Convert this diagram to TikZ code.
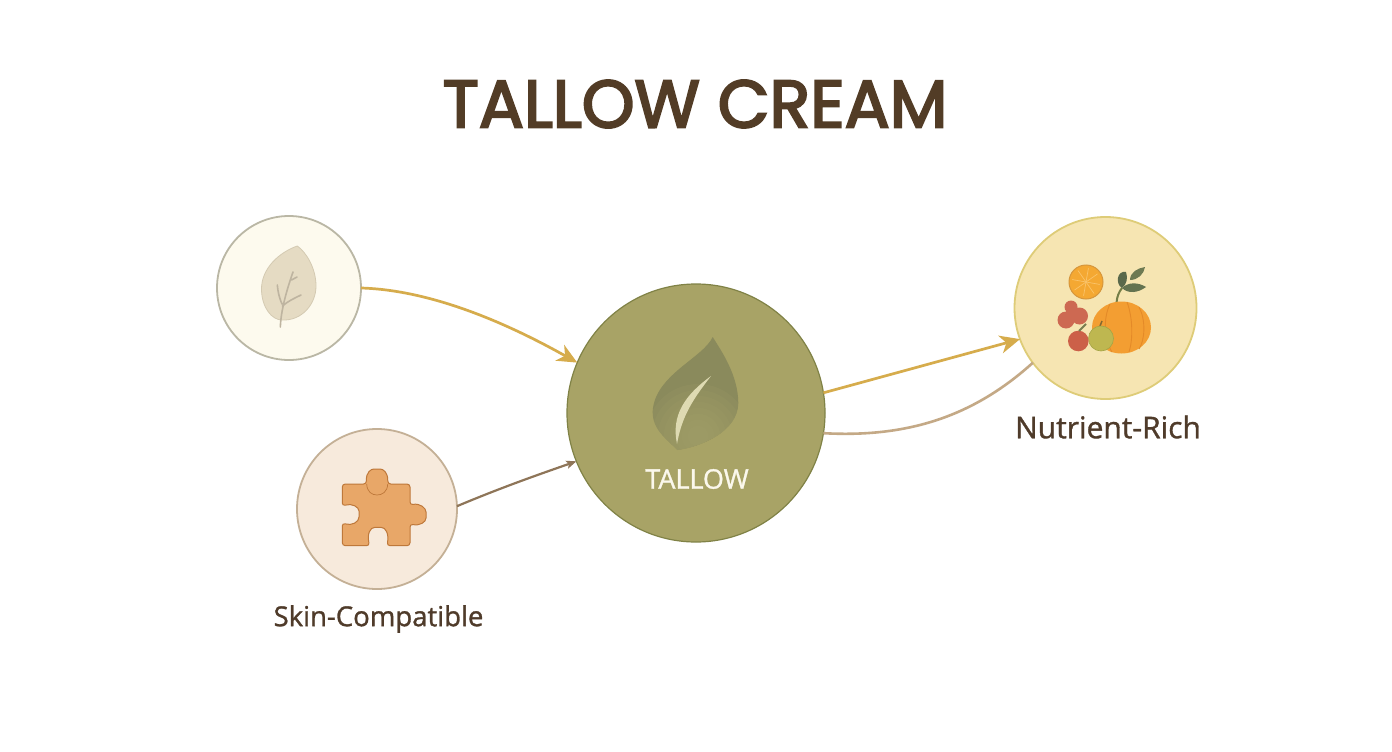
\documentclass[tikz,border=0pt]{standalone}
\usepackage{fontspec}
\setmainfont{Poppins}
\newfontfamily\titlefont[FakeBold=3.2]{Poppins}
\newfontfamily\lblfont[FakeBold=1.1]{Open Sans}
\usetikzlibrary{arrows.meta}
\definecolor{titlec}{HTML}{523C26}
\definecolor{labelc}{HTML}{4F3B2A}
\definecolor{gold}{HTML}{D6AC4C}
\definecolor{tan1}{HTML}{C4A986}
\definecolor{brownl}{HTML}{8E7558}
\definecolor{orangep}{RGB}{243,158,50}
\tikzset{
  x=1pt,y=-1pt,
  blob/.style={circle,inner sep=0pt,outer sep=0pt,draw,line width=1.8pt},
  goldarrow/.style={draw=gold,line width=2.7pt,-{Stealth[length=20pt,width=18pt,inset=6pt]}},
  brownarrow/.style={draw=brownl,line width=2.2pt,-{Stealth[length=10pt,width=8pt,inset=2pt]}},
  plainline/.style={draw=tan1,line width=2.6pt},
  lbl/.style={text=labelc,inner sep=0pt},
}
\begin{document}
\begin{tikzpicture}
\useasboundingbox (0,0) rectangle (1392,752);
\fill[white] (0,0) rectangle (1392,752);
% title
\node[text=titlec,inner sep=0pt,font=\titlefont\fontsize{67}{72}\selectfont] (title) at (695,104) {TALLOW CREAM};
% circles
\node[blob,fill={rgb,255:red,253;green,250;blue,238},draw={rgb,255:red,186;green,183;blue,165},minimum size=144pt] (a) at (289,288) {};
\node[blob,fill={rgb,255:red,247;green,234;blue,220},draw={rgb,255:red,196;green,176;blue,150},minimum size=160pt] (b) at (377,509) {};
\node[blob,fill={rgb,255:red,168;green,163;blue,102},draw={rgb,255:red,128;green,130;blue,70},line width=1.2pt,minimum size=258pt] (m) at (696,413) {};
\node[blob,fill={rgb,255:red,246;green,229;blue,178},draw={rgb,255:red,222;green,204;blue,120},minimum size=182pt] (r) at (1105.5,308) {};
% connectors
\draw[goldarrow] (a.0) .. controls (430,290) and (505,322) .. (m.157);
\draw[brownarrow] (b.2) .. controls (500,488) and (540,474) .. (m.202);
\draw[goldarrow] (m.9) -- (r.200);
\draw[plainline] (m.-9) .. controls (910,438) and (975,415) .. (r.217);
% small leaf
\fill[fill={rgb,255:red,229;green,219;blue,195},draw={rgb,255:red,212;green,202;blue,178},line width=.8pt]
 (297.3,246) .. controls (280,252) and (261,268) .. (261.5,290)
 .. controls (262,308) and (272,320) .. (282,320)
 .. controls (302,321) and (316,304) .. (316,286)
 .. controls (316,268) and (306,252) .. (297.3,246) -- cycle;
\draw[draw={rgb,255:red,190;green,180;blue,160},line width=1.6pt,line cap=round]
 (280.3,327) .. controls (281,312) and (285,295) .. (293,272)
 (282.5,306) .. controls (288,301) and (295,298) .. (301,295)
 (282,304) .. controls (279,297) and (278,292) .. (277.3,285)
 (291.5,280) -- (297,277);
% puzzle
\fill[fill={rgb,255:red,232;green,167;blue,104},draw={rgb,255:red,190;green,120;blue,58},line width=1pt,rounded corners=3pt]
 (342.3,484) -- (366.5,484)
 .. controls (366,472) and (371,469) .. (377,469)
 .. controls (383,469) and (388,472) .. (387.7,484)
 -- (410,484) -- (410,505)
 .. controls (420,503) and (426,508) .. (426,515)
 .. controls (426,522) and (420,526) .. (410,524)
 -- (410,545.7) -- (387,545.7)
 .. controls (389,534) and (386,527.3) .. (378,527.3)
 .. controls (370,527.3) and (367,534) .. (369.5,545.7)
 -- (342.3,545.7) -- (342.3,523)
 .. controls (352,526) and (359,522) .. (359,514)
 .. controls (359,507) and (352,503) .. (342.3,506) -- cycle;
\draw[draw={rgb,255:red,190;green,120;blue,58},line width=.7pt] (366.7,484) .. controls (367,492) and (372,495) .. (377,495) .. controls (382,495) and (387.5,492) .. (387.7,484);
% central leaf
\begin{scope}
\clip (712.7,337) .. controls (703,358) and (655,375) .. (652.7,411)
 .. controls (652,430) and (668,440) .. (677.3,450)
 .. controls (700,447) and (738,432) .. (738.3,403)
 .. controls (738,375) and (722,352) .. (712.7,337) -- cycle;
\fill[fill={rgb,255:red,138;green,138;blue,92}] (640,330) rectangle (750,455);
\foreach \rr in {10,16,...,52}
  \fill[fill={rgb,255:red,168;green,165;blue,108},opacity=.14] (698,436) circle (\rr);
\end{scope}
\fill[fill={rgb,255:red,222;green,218;blue,178}]
 (677,444) .. controls (671,415) and (685,395) .. (711,376)
 .. controls (694,398) and (682,415) .. (677,444) -- cycle;
\node[text={rgb,255:red,251;green,248;blue,236},inner sep=0pt,font=\lblfont\fontsize{27}{30}\selectfont] (tallow) at (697,479) {TALLOW};
% orange slice
\fill[fill={rgb,255:red,244;green,168;blue,50},draw={rgb,255:red,214;green,150;blue,60},line width=1pt] (1086,282) circle (17);
\foreach \an in {10,55,...,325}
  \draw[draw={rgb,255:red,250;green,195;blue,105},line width=.7pt] (1086,282) -- ++(\an:14);
% pumpkin
\draw[draw={rgb,255:red,115;green,125;blue,70},line width=2pt] (1116.5,303) .. controls (1117,296) and (1119,292) .. (1122,288);
\fill[fill={rgb,255:red,90;green,105;blue,75}] (1122,288) .. controls (1115,284) and (1117,270) .. (1126,272) .. controls (1128,278) and (1127,284) .. (1122,288) -- cycle;
\fill[fill={rgb,255:red,110;green,122;blue,82}] (1130,280) .. controls (1130,272) and (1138,268) .. (1145,267) .. controls (1144,274) and (1138,280) .. (1130,280) -- cycle;
\fill[fill={rgb,255:red,100;green,115;blue,80}] (1122,288) .. controls (1128,282) and (1138,282) .. (1146,287) .. controls (1138,293) and (1128,294) .. (1122,288) -- cycle;
\fill[fill=orangep] (1121.5,327.5) ellipse [x radius=29.5,y radius=26];
\draw[draw={rgb,255:red,228;green,138;blue,40},line width=.9pt]
 (1110,304) .. controls (1103,318) and (1104,340) .. (1112,352)
 (1127,302) .. controls (1133,318) and (1133,340) .. (1129,352)
 (1139,307) .. controls (1146,320) and (1145,340) .. (1139,349);
% green apple
\draw[draw={rgb,255:red,130;green,105;blue,50},line width=1.5pt] (1100,326) -- (1102,321);
\fill[fill={rgb,255:red,190;green,183;blue,80},draw={rgb,255:red,165;green,165;blue,70},line width=.6pt] (1101,338.5) circle (12.5);
% red apple
\fill[fill={rgb,255:red,204;green,96;blue,72}] (1078.3,341) circle (10.3);
\draw[draw={rgb,255:red,120;green,125;blue,80},line width=2pt] (1079,331) -- (1086,324);
% red foliage
\fill[fill={rgb,255:red,205;green,105;blue,82}] (1071,307) circle (6.5) (1079.5,316) circle (8.5) (1066,320) circle (8.5) (1072,316) circle (6);
% labels
\node[lbl,font=\lblfont\fontsize{27.5}{30}\selectfont] (skin) at (378.5,619) {Skin-Compatible};
\node[lbl,font=\lblfont\fontsize{30}{32}\selectfont] (nutr) at (1108,427) {Nutrient-Rich};
\end{tikzpicture}
\end{document}
